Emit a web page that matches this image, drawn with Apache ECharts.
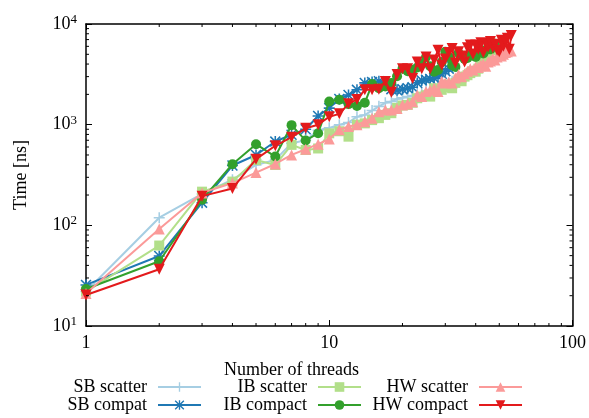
<!DOCTYPE html>
<html>
<head>
<meta charset="utf-8">
<script src="https://cdn.jsdelivr.net/npm/echarts@6/dist/echarts.min.js"></script>
<style>html,body{margin:0;padding:0;background:#fff}#c{width:589px;height:418px}</style>
</head>
<body>
<div id="c"></div>
<script>
// Values per thread count (n = 1..N)
const sbScatter = [22,119,205,284,398,447,655,700,880,930,1000,1050,1200,1250,1380,1520,1650,1700,1800,1850,1900,1950,2000,2050,2150,2200,2300,2350,2450,2500,2600,2700];
const sbCompact = [25.6,49.6,168,393,500,680,794,900,1220,1460,1800,1970,2220,2600,2650,2700,2500,2250,2200,2250,2300,2350,2600,2750,2800,2850,2900,3000,3200,3400,3600,3800];
const ibScatter = [22,63,216,272,445,398,630,560,580,820,860,760,1000,1030,1110,1160,1250,1300,1470,1550,1570,1650,1830,1900,1960,1900,2300,2250,2220,2350,2500,2300,2600,2800,2700,3000,3100,3250,3400,3360,3600,3800,4200,4500,5000,6500,6000,5500];
const ibCompact = [23.3,44,180,405,640,482,989,695,823,1700,1766,1600,1530,1650,2530,2300,2400,2600,3030,3600,3400,3490,3700,4000,4700,3800,3360,3500,4200,5300,4700,3900,3750,5150,4800,4500,4600,4900,5000,4700,5200,5400,5100,5500,5800,5600,6000,6200];
const hwScatter = [21,92,210,263,334,407,501,570,640,720,890,960,1000,1070,1160,1340,1400,1400,1450,1570,1600,1690,1970,1900,2130,2200,2300,2130,2700,2600,2650,2600,2900,3150,3000,3200,3400,3600,3500,3750,3700,3900,4000,3800,4200,4300,4550,4400,4700,4900,4800,5000,5200,5300,5600,5400];
const hwCompact = [20.3,36.6,195,232,454,617,752,920,1000,1200,1280,1610,1780,2220,2220,2250,2690,2100,3150,3600,3600,2870,4200,3600,4700,3600,4400,5500,3900,4500,5200,5700,4100,5300,4800,4200,5800,6200,5000,6200,5600,6500,5200,6400,5900,6700,5800,6300,5500,5300,6900,6000,6800,7200,5600,7700];

const seriesNames = ['SB scatter','SB compat','IB scatter','IB compact','HW scatter','HW compact'];
const xMinorTicks = [2,3,4,5,6,7,8,9,20,30,40,50,60,70,80,90];
const yMinorTicks = [20,30,40,50,60,70,80,90,200,300,400,500,600,700,800,900,2000,3000,4000,5000,6000,7000,8000,9000];

const colors = ['#a6cee3','#1f78b4','#b2df8a','#33a02c','#fb9a99','#e31a1c'];
const symbols = [
  'path://M4.3,0H5.7V10H4.3Z M0,4.3H10V5.7H0Z',
  'path://M4.3,0H5.7V10H4.3Z M0,4.3H10V5.7H0Z M1,0L10,9L9,10L0,1Z M9,0L10,1L1,10L0,9Z',
  'rect','circle','triangle',
  'path://M0,0L10,0L5,9Z'
];
const symbolSizes = [11,11,10,10,11,11];
const allData = [sbScatter,sbCompact,ibScatter,ibCompact,hwScatter,hwCompact];

const FONT = 'Liberation Serif';
const chart = echarts.init(document.getElementById('c'), null, {renderer:'canvas'});

const series = allData.map((arr,i)=>({
  name: seriesNames[i], type:'line',
  data: arr.map((v,k)=>[k+1,v]),
  symbol: symbols[i], symbolSize: symbolSizes[i],
  showAllSymbol: true,
  lineStyle:{color:colors[i], width:2},
  itemStyle:{color:colors[i]},
  emphasis:{disabled:true},
  animation:false, z: 2+i
}));

function xTickRender(params, api){
  const cs = params.coordSys;
  const x = api.coord([api.value(0), 10])[0];
  const b = cs.y + cs.height, t = cs.y;
  return {type:'group', children:[
    {type:'line', shape:{x1:x,y1:b,x2:x,y2:b-3}, style:{stroke:'#000', lineWidth:1}},
    {type:'line', shape:{x1:x,y1:t,x2:x,y2:t+3}, style:{stroke:'#000', lineWidth:1}}
  ]};
}
function yTickRender(params, api){
  const cs = params.coordSys;
  const y = api.coord([1, api.value(1)])[1];
  const l = cs.x, r = cs.x + cs.width;
  return {type:'group', children:[
    {type:'line', shape:{x1:l,y1:y,x2:l+3,y2:y}, style:{stroke:'#000', lineWidth:1}},
    {type:'line', shape:{x1:r,y1:y,x2:r-3,y2:y}, style:{stroke:'#000', lineWidth:1}}
  ]};
}
series.push({type:'custom', name:'xminor', renderItem:xTickRender, data:xMinorTicks.map(v=>[v,10]), encode:{x:0,y:1}, silent:true, clip:false, z:20, animation:false});
series.push({type:'custom', name:'yminor', renderItem:yTickRender, data:yMinorTicks.map(v=>[1,v]), encode:{x:0,y:1}, silent:true, clip:false, z:20, animation:false});

// legend positions: column line right edges and row centers
const legendCols = [202, 362, 523];
const legendRows = [387, 405];
const legends = seriesNames.map((n,i)=>{
  const col = Math.floor(i/2), row = i%2;
  return {
    data:[n], orient:'horizontal', align:'right',
    right: 589 - legendCols[col], top: legendRows[row]-9,
    padding:0, itemWidth:43, itemHeight:12,
    selectedMode:false,
    textStyle:{fontFamily:FONT, fontSize:18, color:'#000', lineHeight:18, padding:[0,6,0,0]}
  };
});

const axisCommon = {
  axisLine:{show:true, lineStyle:{color:'#000', width:1.5}},
  splitLine:{show:false},
  axisTick:{show:true, inside:true, length:6, lineStyle:{color:'#000', width:1}}
};

chart.setOption({
  animation:false,
  backgroundColor:'#fff',
  grid:{left:86, right:16, top:24, bottom:92, containLabel:false},
  legend: legends,
  xAxis:[
    Object.assign({type:'log', logBase:10, min:1, max:100, position:'bottom',
      axisLabel:{fontFamily:FONT, fontSize:18, color:'#000', margin:8}}, axisCommon),
    Object.assign({type:'log', logBase:10, min:1, max:100, position:'top',
      axisLabel:{show:false}}, axisCommon)
  ],
  yAxis:[
    Object.assign({type:'log', logBase:10, min:10, max:10000, position:'left',
      name:'Time [ns]', nameLocation:'middle', nameGap:56, nameRotate:90,
      nameTextStyle:{fontFamily:FONT, fontSize:18, color:'#000'},
      axisLabel:{margin:9, formatter:(v)=>'{b|10}{s|'+Math.round(Math.log10(v))+'}',
        rich:{b:{fontFamily:FONT, fontSize:18, color:'#000'}, s:{fontFamily:FONT, fontSize:13, color:'#000', padding:[0,0,9,0]}}}}, axisCommon),
    Object.assign({type:'log', logBase:10, min:10, max:10000, position:'right',
      axisLabel:{show:false}}, axisCommon)
  ],
  graphic:[{type:'text', left: 292-68, top: 361,
    style:{text:'Number of threads', font:'18px "Liberation Serif"', fill:'#000'}}],
  series: series
});
</script>
</body>
</html>
